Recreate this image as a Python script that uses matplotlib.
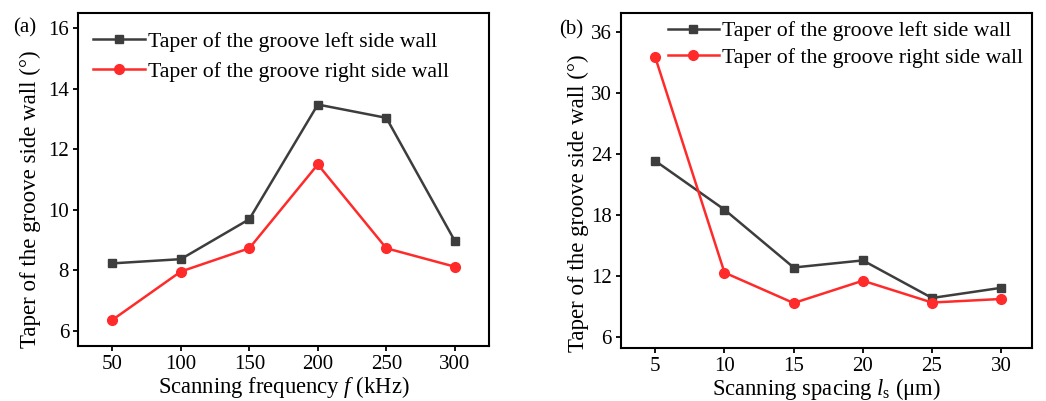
import matplotlib
matplotlib.use("Agg")
import matplotlib.pyplot as plt

plt.rcParams['font.family'] = ['Liberation Serif', 'DejaVu Serif']
plt.rcParams['mathtext.fontset'] = 'custom'
plt.rcParams['mathtext.rm'] = 'Liberation Serif'
plt.rcParams['mathtext.it'] = 'Liberation Serif:italic'

# Datos del panel (a)
freq = [50, 100, 150, 200, 250, 300]
left_a = [8.23, 8.37, 9.69, 13.48, 13.04, 8.97]
right_a = [6.36, 7.96, 8.73, 11.5, 8.73, 8.12]

# Datos del panel (b)
spacing = [5, 10, 15, 20, 25, 30]
left_b = [23.3, 18.5, 12.8, 13.5, 9.8, 10.8]
right_b = [33.5, 12.3, 9.3, 11.5, 9.35, 9.7]

label_left = 'Taper of the groove left side wall'
label_right = 'Taper of the groove right side wall'
ylab = 'Taper of the groove side wall (°)'

dark = '#3d3d3d'
red = '#ff2a2a'

fig = plt.figure(figsize=(10.46, 4.01), dpi=100)
ax1 = fig.add_axes([0.0746, 0.1372, 0.393, 0.830])
ax2 = fig.add_axes([0.5934, 0.1329, 0.3929, 0.8354])


def style(ax):
    for s in ax.spines.values():
        s.set_linewidth(1.5)
    ax.tick_params(direction='out', length=3.5, width=1.3, labelsize=15, pad=3)


# (a)
ax1.plot(freq, left_a, color=dark, marker='s', markersize=6, lw=1.8, label=label_left)
ax1.plot(freq, right_a, color=red, marker='o', markersize=7, lw=1.8, label=label_right)
ax1.set_xlim(25, 325)
ax1.set_ylim(5.5, 16.5)
ax1.set_xticks(freq)
ax1.set_yticks([6, 8, 10, 12, 14, 16])
ax1.set_xlabel('Scanning frequency $\\mathit{f}$ (kHz)', fontsize=16.3, labelpad=0)
ax1.set_ylabel(ylab, fontsize=16.5)
ax1.yaxis.set_label_coords(-0.09, 0.44)
style(ax1)
ax1.legend(loc='upper left', fontsize=15.7, frameon=False, handlelength=2.35,
           handletextpad=0.15, labelspacing=0.45, borderaxespad=0.3,
           bbox_to_anchor=(0.0, 0.99))
fig.text(0.013, 0.92, '(a)', fontsize=15)

# (b)
ax2.plot(spacing, left_b, color=dark, marker='s', markersize=6, lw=1.8, label=label_left)
ax2.plot(spacing, right_b, color=red, marker='o', markersize=7, lw=1.8, label=label_right)
ax2.set_xlim(2.5, 32.2)
ax2.set_ylim(4.9, 37.9)
ax2.set_xticks(spacing)
ax2.set_yticks([6, 12, 18, 24, 30, 36])
ax2.set_xlabel('Scanning spacing $\\mathit{l}_{\\mathrm{s}}$ (μm)', fontsize=16.3, labelpad=0)
ax2.set_ylabel(ylab, fontsize=16.5)
ax2.yaxis.set_label_coords(-0.077, 0.43)
style(ax2)
ax2.legend(loc='upper left', fontsize=15.7, frameon=False, handlelength=2.35,
           handletextpad=0.15, labelspacing=0.3, borderaxespad=0.1,
           bbox_to_anchor=(0.088, 1.008))
fig.text(0.535, 0.915, '(b)', fontsize=15)

fig.savefig('out.png', dpi=100)
